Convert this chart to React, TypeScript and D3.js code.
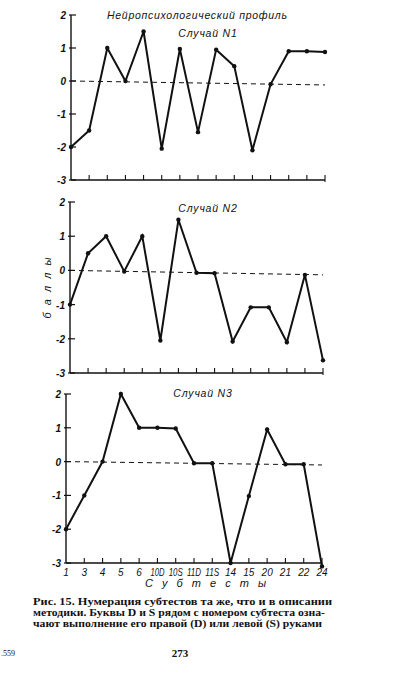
import React from "react";
import * as d3 from "d3";

const categories = ["1", "3", "4", "5", "6", "10D", "10S", "11D", "11S", "14", "15", "20", "21", "22", "24"];
const case1 = [-2, -1.5, 1, 0, 1.5, -2.05, 0.97, -1.55, 0.95, 0.45, -2.1, -0.1, 0.9, 0.9, 0.88];
const case2 = [-1, 0.5, 1, -0.03, 1, -2.05, 1.48, -0.07, -0.08, -2.08, -1.08, -1.08, -2.1, -0.13, -2.63];
const case3 = [-2, -1, 0, 2, 1, 1, 0.98, -0.05, -0.05, -3, -1.02, 0.95, -0.08, -0.08, -3.1];
const caseTitles = ["Случай N1", "Случай N2", "Случай N3"];
const yTicks = [2, 1, 0, -1, -2, -3];
const baselineEnds = [-0.12, -0.13, -0.1];

const mainTitle = "Нейропсихологический профиль";
const yLabel = "б а л л ы";
const xLabel = "С у б т е с т ы";
const captionLines = [
  "Рис. 15. Нумерация субтестов та же, что и в описании",
  "методики. Буквы D и S рядом с номером субтеста озна-",
  "чают выполнение его правой (D) или левой (S) руками",
];

const panels = [
  { data: case1, x0: 71, x1: 325, yTop: 15, yBot: 180, titleX: 208, titleY: 37 },
  { data: case2, x0: 70, x1: 323, yTop: 202, yBot: 373, titleX: 208, titleY: 212 },
  { data: case3, x0: 66, x1: 322, yTop: 394, yBot: 563, titleX: 203, titleY: 397 },
];

const sans = "'Liberation Sans', Arial, sans-serif";
const serif = "'Liberation Serif', 'Times New Roman', serif";
const ink = "#111";

function Panel({ p, idx }: { p: any; idx: number }) {
  const x = d3.scalePoint<string>().domain(categories).range([p.x0, p.x1]);
  const y = d3.scaleLinear().domain([-3, 2]).range([p.yBot, p.yTop]);
  const line = d3
    .line<number>()
    .x((_, i) => x(categories[i]) as number)
    .y((d) => y(d));
  return (
    <g>
      <line x1={p.x0} x2={p.x0} y1={y(2)} y2={y(-3)} stroke={ink} strokeWidth={1.4} />
      <line x1={p.x0} x2={p.x1} y1={y(-3)} y2={y(-3)} stroke={ink} strokeWidth={1.4} />
      {yTicks.map((t) => (
        <g key={t}>
          <line x1={p.x0 - 2} x2={p.x0 + 5} y1={y(t)} y2={y(t)} stroke={ink} strokeWidth={1.2} />
          <text
            x={p.x0 - 5}
            y={y(t) + 4}
            textAnchor="end"
            fontFamily={sans}
            fontStyle="italic"
            fontWeight="bold"
            fontSize={10}
            fill={ink}
          >
            {t}
          </text>
        </g>
      ))}
      {categories.slice(1).map((c) => (
        <line
          key={c}
          x1={x(c)}
          x2={x(c)}
          y1={y(-3) - 5}
          y2={y(-3) + (c === "24" ? 2 : 0)}
          stroke={ink}
          strokeWidth={1.1}
        />
      ))}
      <line
        x1={p.x0}
        x2={p.x1}
        y1={y(0)}
        y2={y(baselineEnds[idx])}
        stroke={ink}
        strokeWidth={1}
        strokeDasharray="5,4"
      />
      <path d={line(p.data) || ""} fill="none" stroke={ink} strokeWidth={2} strokeLinejoin="miter" />
      {p.data.map((d: number, i: number) => (
        <circle key={i} cx={x(categories[i])} cy={y(d)} r={2.2} fill={ink} />
      ))}
      <text
        x={p.titleX}
        y={p.titleY}
        textAnchor="middle"
        fontFamily={sans}
        fontStyle="italic"
        fontSize={10.5}
        fill={ink}
        letterSpacing={0.8}
      >
        {caseTitles[idx]}
      </text>
      {idx === 2 &&
        categories.map((c) => (
          <text
            key={c}
            x={x(c)}
            y={y(-3) + 13}
            textAnchor="middle"
            fontFamily={sans}
            fontStyle="italic"
            fontSize={10}
            fill={ink}
            {...(c.length > 2 ? { textLength: 14, lengthAdjust: "spacingAndGlyphs" } : {})}
          >
            {c}
          </text>
        ))}
    </g>
  );
}

export default function App() {
  return (
    <svg
      width={400}
      height={678}
      style={{ position: "absolute", left: 0, top: 0, background: "#fff" }}
    >
      <rect width={400} height={678} fill="#fff" />
      <text
        x={197}
        y={19}
        textAnchor="middle"
        fontFamily={sans}
        fontStyle="italic"
        fontSize={10.5}
        fill={ink}
        textLength={180}
        lengthAdjust="spacing"
      >
        {mainTitle}
      </text>
      {panels.map((p, i) => (
        <Panel key={i} p={p} idx={i} />
      ))}
      <text
        transform="translate(51,287) rotate(-90)"
        textAnchor="middle"
        fontFamily={sans}
        fontStyle="italic"
        fontSize={11}
        fill={ink}
        letterSpacing={2}
      >
        {yLabel}
      </text>
      <text
        x={207}
        y={587}
        textAnchor="middle"
        fontFamily={sans}
        fontStyle="italic"
        fontSize={11}
        fill={ink}
        letterSpacing={3}
      >
        {xLabel}
      </text>
      {captionLines.map((l, i) => (
        <text
          key={i}
          x={33}
          y={605 + i * 11}
          fontFamily={serif}
          fontWeight="bold"
          fontSize={10.5}
          fill={ink}
          textLength={[299, 292, 289][i]}
          lengthAdjust="spacingAndGlyphs"
        >
          {l}
        </text>
      ))}
      <text x={1} y={656} fontFamily={serif} fontSize={8} fill={ink}>
        .559
      </text>
      <text x={180} y={657} textAnchor="middle" fontFamily={serif} fontWeight="bold" fontSize={11} fill={ink}>
        273
      </text>
    </svg>
  );
}
